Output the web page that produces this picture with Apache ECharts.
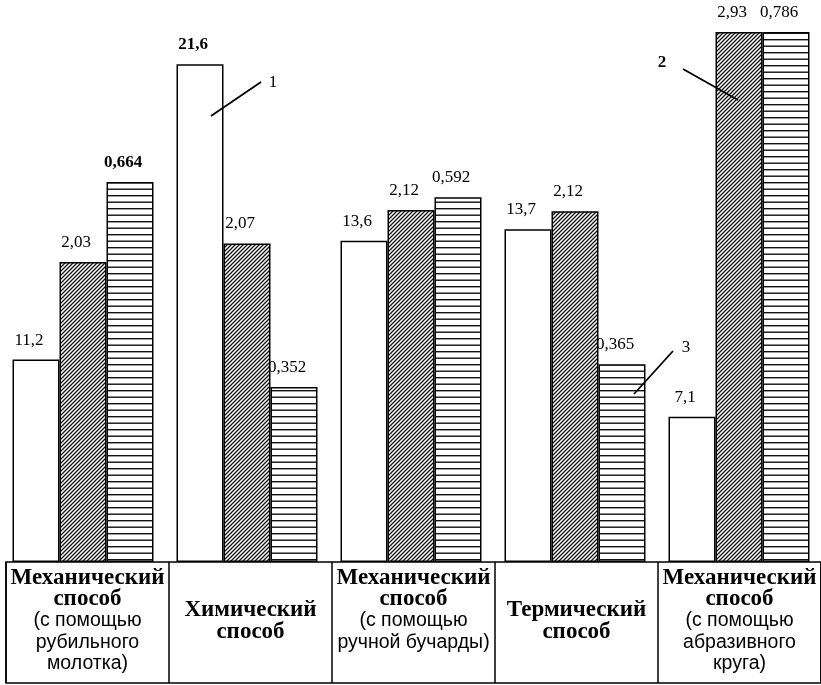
<!DOCTYPE html>
<html><head><meta charset="utf-8">
<script src="https://cdn.jsdelivr.net/npm/echarts@6/dist/echarts.min.js"></script>
<style>html,body{margin:0;padding:0;background:#fff}#c{width:821px;height:685px}</style>
</head><body><div id="c"></div>
<script>
// Categories (methods)
const categories = [
  'Механический способ (с помощью рубильного молотка)',
  'Химический способ',
  'Механический способ (с помощью ручной бучарды)',
  'Термический способ',
  'Механический способ (с помощью абразивного круга)'
];
// Printed values above bars
const values1 = [11.2, 21.6, 13.6, 13.7, 7.1];      // series 1 (white)
const values2 = [2.03, 2.07, 2.12, 2.12, 2.93];     // series 2 (diagonal hatch)
const values3 = [0.664, 0.352, 0.592, 0.365, 0.786];// series 3 (horizontal hatch)
// Drawn bar heights (percent of tallest bar; chart is schematic, not to scale)
const heights1 = [38.2, 93.9, 60.6, 62.8, 27.4];
const heights2 = [56.6, 60.1, 66.4, 66.2, 100];
const heights3 = [71.7, 33.0, 68.8, 37.3, 100];

function fmt(v){ return String(v).replace('.', ','); }

function diagPattern(){
  const c = document.createElement('canvas'); c.width = 4; c.height = 4;
  const g = c.getContext('2d'); g.fillStyle = '#fff'; g.fillRect(0,0,4,4);
  g.strokeStyle = '#111'; g.lineWidth = 1.3; g.lineCap = 'square';
  g.beginPath();
  g.moveTo(0,4); g.lineTo(4,0);
  g.moveTo(-1,1); g.lineTo(1,-1);
  g.moveTo(3,5); g.lineTo(5,3);
  g.stroke();
  return c;
}
function horizPattern(){
  const c = document.createElement('canvas'); c.width = 4; c.height = 13;
  const g = c.getContext('2d'); g.fillStyle = '#fff'; g.fillRect(0,0,4,13);
  g.fillStyle = '#111'; g.fillRect(0,0,4,1.4); g.fillRect(0,6.5,4,1.4);
  return c;
}

const boxLabels = [
  '{m|Механический}\n{m|способ}\n{s|(с помощью}\n{s|рубильного}\n{s|молотка)}',
  '{m|Химический}\n{m|способ}',
  '{m|Механический}\n{m|способ}\n{s|(с помощью}\n{s|ручной бучарды)}\n{s| }',
  '{m|Термический}\n{m|способ}',
  '{m|Механический}\n{m|способ}\n{s|(с помощью}\n{s|абразивного}\n{s|круга)}'
];

function mkSeries(heights, vals, color, boldIdx){
  return {
    type: 'bar', xAxisIndex: 0, yAxisIndex: 0,
    barWidth: 47, barGap: '0%',
    data: heights,
    itemStyle: { color: color, borderColor: '#000', borderWidth: 1.5 },
    label: {
      show: true, position: 'top', distance: 11, offset: [-7, 0],
      formatter: p => (boldIdx.indexOf(p.dataIndex) >= 0 ? '{b|' : '{r|') + fmt(vals[p.dataIndex]) + '}',
      rich: {
        r: { fontFamily: 'Liberation Serif', fontSize: 17, color: '#000' },
        b: { fontFamily: 'Liberation Serif', fontSize: 17, fontWeight: 'bold', color: '#000' }
      }
    },
    silent: true
  };
}

const chart = echarts.init(document.getElementById('c'), null, {renderer: 'canvas'});
chart.setOption({
  backgroundColor: '#fff',
  animation: false,
  grid: [
    { left: 1, right: -7, top: 32, bottom: 123 },
    { left: 6, right: -7, top: 562, bottom: 2, show: true, borderColor: '#000', borderWidth: 1.5, backgroundColor: 'transparent' }
  ],
  xAxis: [
    { type: 'category', gridIndex: 0, data: categories, axisLine: {show: false}, axisTick: {show: false}, axisLabel: {show: false} },
    { type: 'category', gridIndex: 1, position: 'top', data: boxLabels,
      axisLine: {show: false}, axisTick: {show: false},
      splitLine: { show: true, lineStyle: { color: '#000', width: 1.5 } },
      axisLabel: {
        inside: true, margin: 59, interval: 0, verticalAlign: 'middle', align: 'center',
        formatter: v => v,
        rich: {
          m: { fontFamily: 'Liberation Serif', fontSize: 23, fontWeight: 'bold', color: '#000', lineHeight: 21.5 },
          s: { fontFamily: 'Liberation Sans', fontSize: 19.5, color: '#000', lineHeight: 21.5 }
        }
      }
    }
  ],
  yAxis: [
    { type: 'value', gridIndex: 0, min: 0, max: 100, show: false, splitLine: {show: false} },
    { type: 'value', gridIndex: 1, show: false, splitLine: {show: false} }
  ],
  series: [
    mkSeries(heights1, values1, '#fff', [1]),
    mkSeries(heights2, values2, { image: diagPattern(), repeat: 'repeat' }, []),
    mkSeries(heights3, values3, { image: horizPattern(), repeat: 'repeat' }, [0])
  ],
  graphic: [
    { type: 'line', shape: { x1: 211, y1: 116, x2: 261, y2: 82 }, style: { stroke: '#000', lineWidth: 1.8 }, z: 100 },
    { type: 'text', x: 273, y: 83, style: { text: '1', font: '17px "Liberation Serif"', fill: '#000', align: 'center', verticalAlign: 'middle' }, z: 100 },
    { type: 'line', shape: { x1: 683, y1: 69, x2: 738, y2: 100 }, style: { stroke: '#000', lineWidth: 1.8 }, z: 100 },
    { type: 'text', x: 662, y: 63, style: { text: '2', font: 'bold 17px "Liberation Serif"', fill: '#000', align: 'center', verticalAlign: 'middle' }, z: 100 },
    { type: 'line', shape: { x1: 673, y1: 351, x2: 634, y2: 394 }, style: { stroke: '#000', lineWidth: 1.8 }, z: 100 },
    { type: 'text', x: 686, y: 348, style: { text: '3', font: '17px "Liberation Serif"', fill: '#000', align: 'center', verticalAlign: 'middle' }, z: 100 }
  ]
});
</script></body></html>
